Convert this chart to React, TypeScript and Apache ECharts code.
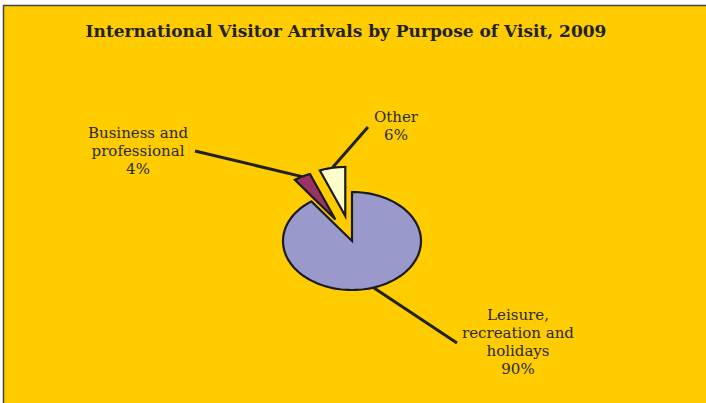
import React, { useEffect, useRef } from "react";
import * as echarts from "echarts";

const titleText = "International Visitor Arrivals by Purpose of Visit, 2009";
const categories = ["Leisure,\nrecreation and\nholidays", "Business and\nprofessional", "Other"];
const values = [90, 4, 6];
const colors = ["#9999CC", "#993366", "#FFFFCC"];
const explode = [0, 0.5, 0.52];
// label line end points and label block centres (layout)
const labelAnchors = [[457, 343], [195, 151], [368, 127]];
const labelCenters = [[518, 342], [138, 151], [396, 126]];

const FONT = "'DejaVu Serif', 'Liberation Serif', serif";

export default function App() {
  const ref = useRef<HTMLDivElement>(null);
  useEffect(() => {
    const chart = echarts.init(ref.current!, null, { renderer: "svg" });
    const total = values.reduce((a, b) => a + b, 0);
    const starts: number[] = [];
    let acc = 0;
    values.forEach((v) => {
      starts.push(acc);
      acc += v;
    });
    const cx = 352, cy = 241, rx = 69, ry = 49;
    const renderItem = (params: any, api: any) => {
      const i = params.dataIndex;
      const v = api.value(0);
      const a0 = (starts[i] / total) * 2 * Math.PI;
      const a1 = ((starts[i] + v) / total) * 2 * Math.PI;
      const am = (a0 + a1) / 2;
      const ox = cx + Math.sin(am) * rx * explode[i];
      const oy = cy - Math.cos(am) * ry * explode[i];
      const pts: number[][] = [[ox, oy]];
      const n = Math.max(2, Math.ceil((a1 - a0) / (Math.PI / 90)));
      for (let k = 0; k <= n; k++) {
        const a = a0 + ((a1 - a0) * k) / n;
        pts.push([ox + Math.sin(a) * rx, oy - Math.cos(a) * ry]);
      }
      const edge = [ox + Math.sin(am) * rx, oy - Math.cos(am) * ry];
      return {
        type: "group",
        children: [
          {
            type: "polyline",
            shape: { points: [edge, labelAnchors[i]] },
            style: { stroke: "#222", lineWidth: 3, fill: null },
          },
          {
            type: "polygon",
            shape: { points: pts },
            style: { fill: colors[i], stroke: "#1a1a1a", lineWidth: 2.2, lineJoin: "miter" },
          },
          {
            type: "text",
            x: labelCenters[i][0],
            y: labelCenters[i][1],
            style: {
              text: categories[i] + "\n" + v + "%",
              align: "center",
              verticalAlign: "middle",
              fontFamily: FONT,
              fontSize: 15,
              lineHeight: 18,
              fill: "#2a2a2a",
            },
          },
        ],
      };
    };
    chart.setOption({
      animation: false,
      backgroundColor: "#ffffff",
      title: {
        text: titleText,
        left: 341,
        textAlign: "center",
        top: 17,
        textStyle: { fontFamily: FONT, fontSize: 17, fontWeight: "bold", color: "#222" },
      },
      graphic: [
        {
          type: "rect",
          z: -10,
          shape: { x: 3.5, y: 5.5, width: 710, height: 405 },
          style: { fill: "#FFCC00", stroke: "#444", lineWidth: 1.5 },
        },
      ],
      series: [
        {
          type: "custom",
          coordinateSystem: "none",
          renderItem,
          data: values.map((v, i) => ({ value: [v], name: categories[i] })),
        },
      ],
    });
    return () => chart.dispose();
  }, []);
  return (
    <div
      ref={ref}
      style={{ position: "fixed", left: 0, top: 0, width: 706, height: 403 }}
    />
  );
}
